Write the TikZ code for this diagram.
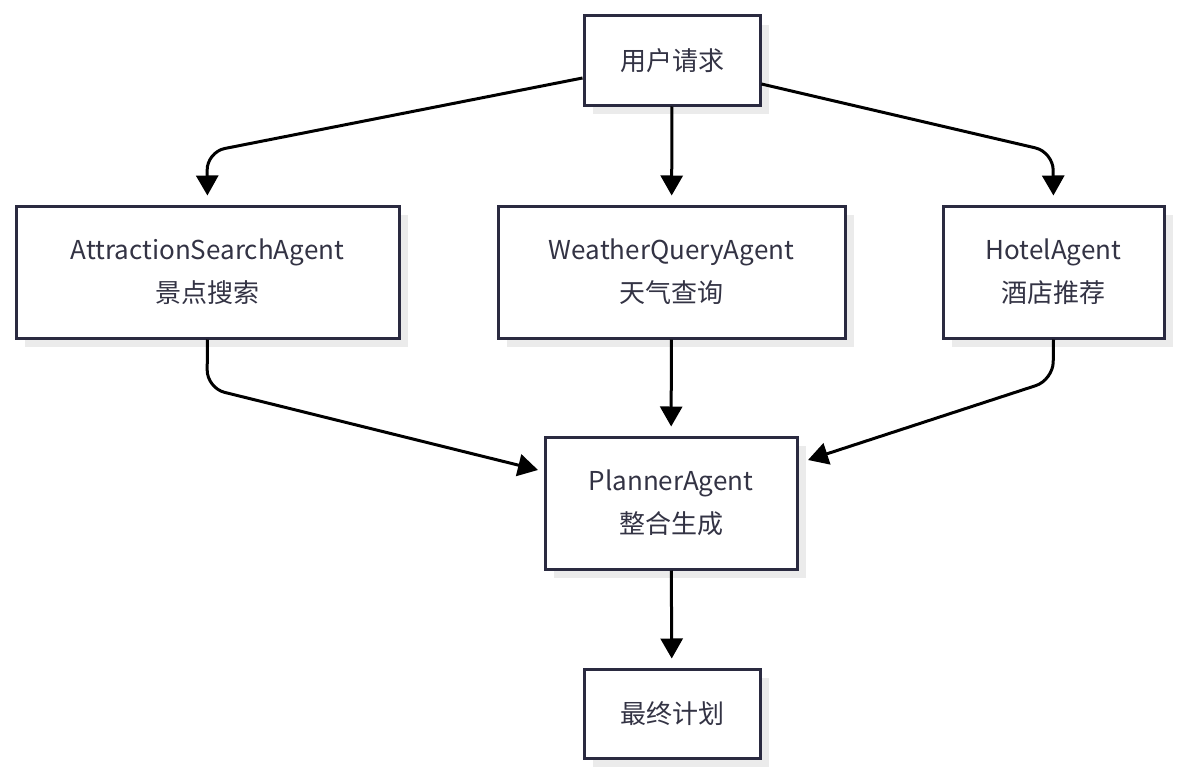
\documentclass[tikz,border=0pt]{standalone}
\usepackage{fontspec}
\setmainfont{Noto Sans CJK SC}
\usetikzlibrary{arrows.meta}
\definecolor{bd}{HTML}{2A2A40}
\definecolor{tx}{HTML}{333344}
\begin{document}
\begin{tikzpicture}[x=1pt,y=-1pt,
 box/.style={draw=bd,line width=3pt,fill=white,text=tx,align=center,font=\fontsize{26}{43}\selectfont,inner sep=0pt},
 arr/.style={line width=3pt,-{Triangle[width=22pt,length=20pt]},rounded corners=18pt,shorten >=9pt}]
\useasboundingbox (0,0) rectangle (1181,776);
\newcommand{\bx}[6]{%
 \fill[black!8] (#2+9,#4+9) rectangle (#3+9,#5+9);
 \node[box,minimum width=#3-#2,minimum height=#5-#4] (#1) at ({(#2+#3)/2},{(#4+#5)/2}) {#6};}
\bx{u}{584}{760}{16}{105}{用户请求}
\bx{a}{16}{399}{206}{338}{AttractionSearchAgent\\景点搜索}
\bx{w}{498}{845}{206}{338}{WeatherQueryAgent\\天气查询}
\bx{h}{943}{1164}{206}{338}{HotelAgent\\酒店推荐}
\bx{p}{545}{797}{437}{569}{PlannerAgent\\整合生成}
\bx{f}{584}{760}{669}{758}{最终计划}
\draw[arr] (u.west|-0,78) -- (207,152) -- (a.north);
\draw[arr] (u) -- (w);
\draw[arr] (u.east|-0,84) -- (1053,152) -- (h.north);
\draw[arr,shorten >=0pt] (a.south) -- (207,388) -- (538,470);
\draw[arr] (w) -- (p);
\draw[arr,shorten >=0pt] (h.south) -- (1053,380) -- (808,460);
\draw[arr] (p) -- (f);
\end{tikzpicture}
\end{document}
